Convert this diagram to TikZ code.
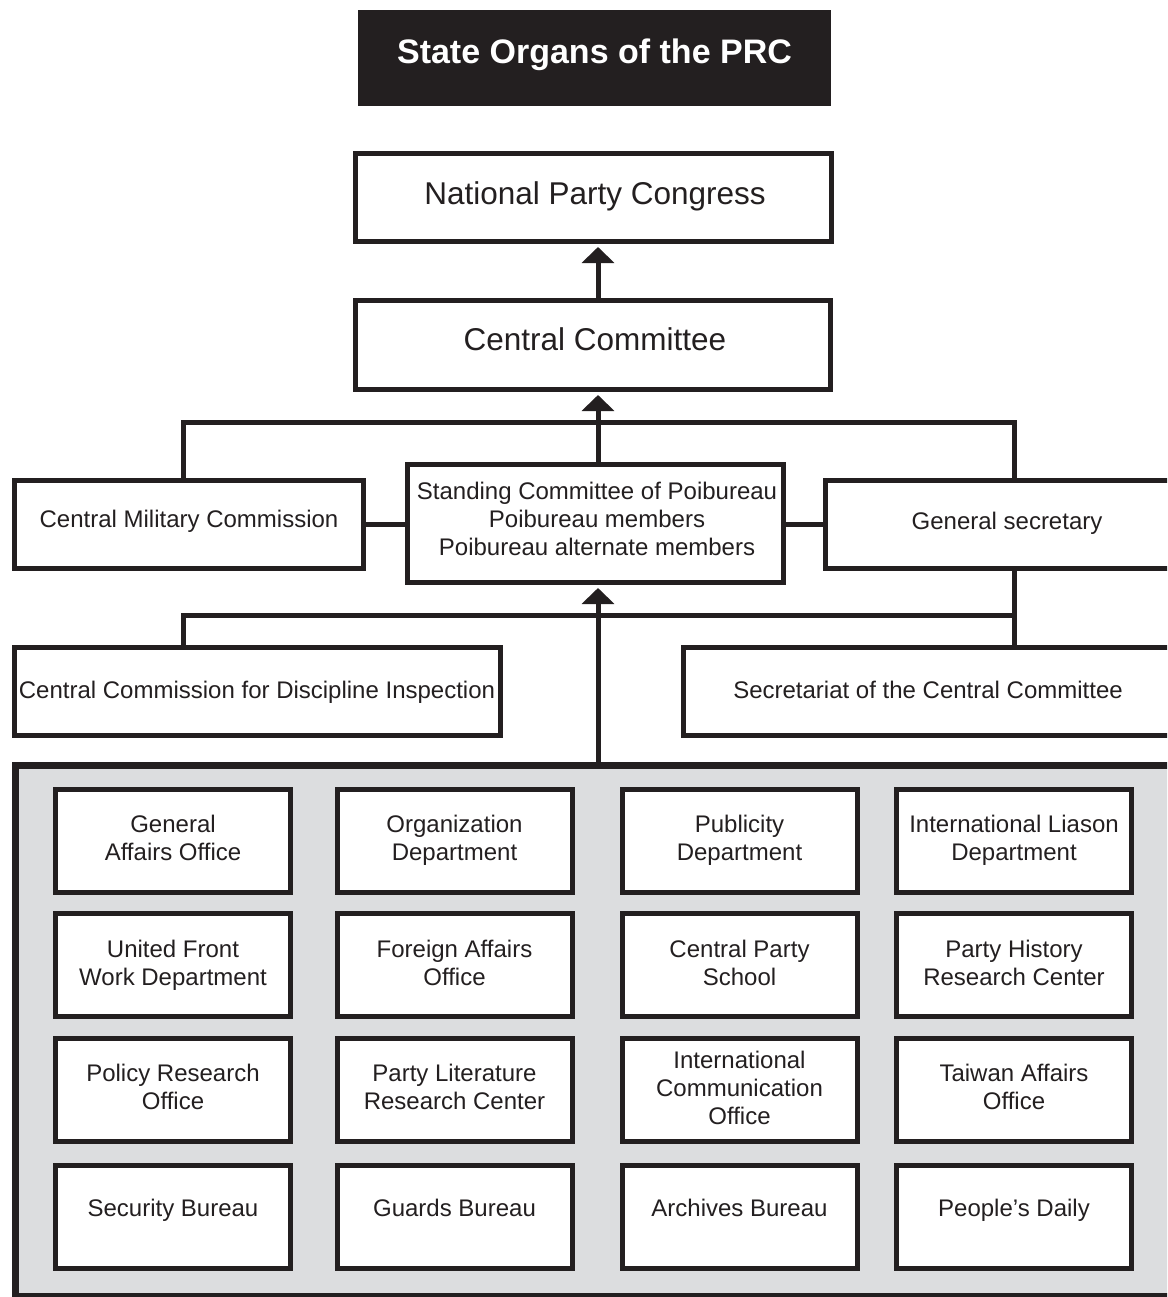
\documentclass[tikz,border=0pt]{standalone}
\usepackage{fontspec}
\setmainfont{Liberation Sans}
\usetikzlibrary{arrows.meta,calc}
\definecolor{ink}{RGB}{35,31,32}
\definecolor{panelgray}{RGB}{220,221,223}
\newcommand\gridcell[5]{%
  \node[gb] (#1) at (#2,#3) {};
  \node[txt,anchor=north] (#1-t) at (#2,#4-17) {#5};}
\begin{document}
\begin{tikzpicture}[x=1pt,y=-1pt,
  box/.style={draw=ink,line width=5pt,fill=white,inner sep=0pt},
  gb/.style={box,minimum width=235pt,minimum height=103pt},
  txt/.style={text=ink,font=\fontsize{24}{28}\selectfont,align=center,inner sep=0pt},
  bigtxt/.style={text=ink,font=\fontsize{31.5}{38}\selectfont,inner sep=0pt,anchor=north},
  conn/.style={draw=ink,line width=5pt,line join=miter},
  arr/.style={conn,-{Triangle[width=32pt,length=16pt]},shorten >=3pt}]
\useasboundingbox (0,0) rectangle (1167,1297);
\clip (0,0) rectangle (1167,1297);

% title
\node[fill=ink,minimum width=473pt,minimum height=96pt,inner sep=0pt] (title) at (594.5,58) {};
\node[text=white,font=\bfseries\fontsize{34}{40}\selectfont,inner sep=0pt,anchor=north] (title-t) at (594.5,38.7) {State Organs of the PRC};

% upper boxes
\node[box,minimum width=476pt,minimum height=88pt] (npc) at (593.5,197.5) {};
\node[bigtxt] (npc-t) at (595,181) {National Party Congress};
\node[box,minimum width=475pt,minimum height=89pt] (cc) at (593,345) {};
\node[bigtxt] (cc-t) at (595,327) {Central Committee};

\node[box,minimum width=349pt,minimum height=88pt] (cmc) at (189,524.5) {};
\node[txt,anchor=north] (cmc-t) at (189,510) {Central Military Commission};
\node[box,minimum width=376pt,minimum height=118pt] (sc) at (595.5,523.5) {};
\node[txt,anchor=north] (sc-t) at (597,482) {Standing Committee of Poibureau\\Poibureau members\\Poibureau alternate members};
\node[box,minimum width=364.5pt,minimum height=88pt] (gs) at (1007.75,524.5) {};
\node[txt,anchor=north] (gs-t) at (1007,512) {General secretary};

\node[box,minimum width=486pt,minimum height=88pt] (ccdi) at (257.5,691.5) {};
\node[txt,anchor=north] (ccdi-t) at (257,681) {Central Commission for Discipline Inspection};
\node[box,minimum width=506.5pt,minimum height=88pt] (sec) at (936.75,691.5) {};
\node[txt,anchor=north] (sec-t) at (928,681) {Secretariat of the Central Committee};

% panel
\node[draw=ink,line width=7pt,fill=panelgray,minimum width=1164.5pt,minimum height=530.5pt,inner sep=0pt] (panel) at (597.75,1030.75) {};

\gridcell{g11}{173}{841}{832}{General\\Affairs Office}
\gridcell{g12}{454.5}{841}{832}{Organization\\Department}
\gridcell{g13}{739.5}{841}{832}{Publicity\\Department}
\gridcell{g14}{1014}{841}{832}{International Liason\\Department}

\gridcell{g21}{173}{965}{957}{United Front\\Work Department}
\gridcell{g22}{454.5}{965}{957}{Foreign Affairs\\Office}
\gridcell{g23}{739.5}{965}{957}{Central Party\\School}
\gridcell{g24}{1014}{965}{957}{Party History\\Research Center}

\gridcell{g31}{173}{1090}{1081}{Policy Research\\Office}
\gridcell{g32}{454.5}{1090}{1081}{Party Literature\\Research Center}
\gridcell{g33}{739.5}{1090}{1068}{International\\Communication\\Office}
\gridcell{g34}{1014}{1090}{1081}{Taiwan Affairs\\Office}

\gridcell{g41}{173}{1216.5}{1216}{Security Bureau}
\gridcell{g42}{454.5}{1216.5}{1216}{Guards Bureau}
\gridcell{g43}{739.5}{1216.5}{1216}{Archives Bureau}
\gridcell{g44}{1014}{1216.5}{1216}{People's Daily}

% connectors
\coordinate (ax) at (598,0);
\coordinate (busL) at (183,422);
\coordinate (busR) at (1014,422);
\coordinate (lowL) at (183,615.5);
\coordinate (lowR) at (1014,615.5);

\draw[arr] (cc.north -| ax) -- (npc.south -| ax);
\draw[conn] (cmc.north -| busL) -- (busL) -- (busR) -- (gs.north -| busR);
\draw[arr] (sc.north -| ax) -- (cc.south -| ax);
\draw[conn] (cmc.east) -- (cmc.east -| sc.west);
\draw[conn] (gs.west -| sc.east) -- (gs.west);
\draw[conn] (ccdi.north -| lowL) -- (lowL) -- (lowR);
\draw[conn] (gs.south -| lowR) -- (sec.north -| lowR);
\draw[arr] (panel.north -| ax) -- (sc.south -| ax);
\end{tikzpicture}
\end{document}
